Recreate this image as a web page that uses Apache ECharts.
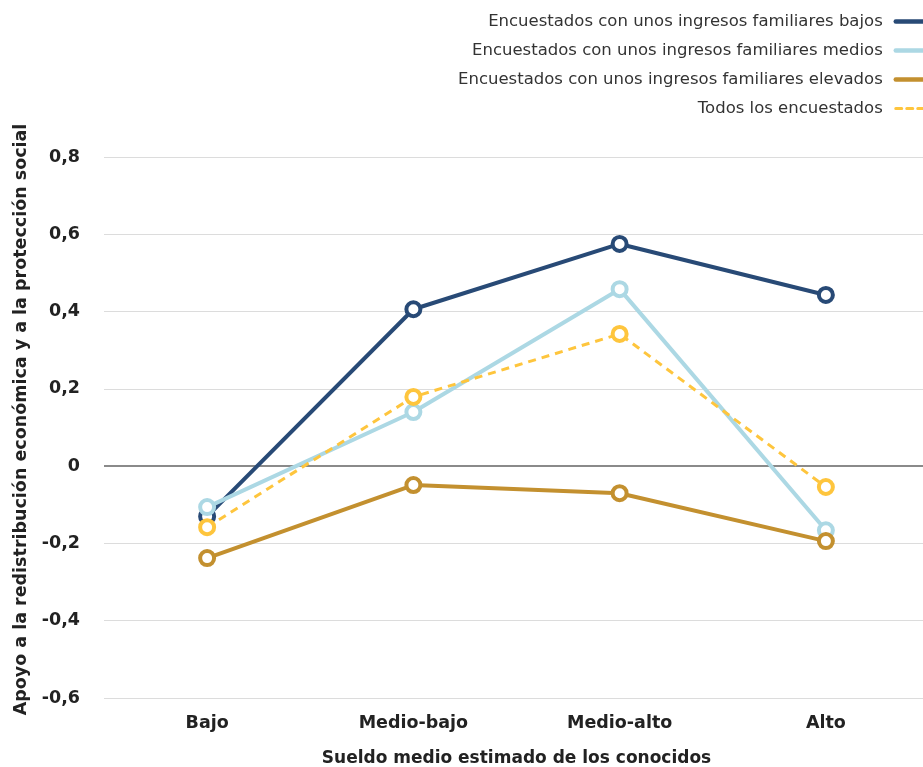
<!DOCTYPE html>
<html>
<head>
<meta charset="utf-8">
<script src="https://cdn.jsdelivr.net/npm/echarts@6/dist/echarts.min.js"></script>
<style>
  html, body { margin: 0; padding: 0; background: #fff; }
  #chart { width: 923px; height: 767px; }
</style>
</head>
<body>
<div id="chart"></div>
<script>
// Categories: estimated average salary of acquaintances
const categories = ['Bajo', 'Medio-bajo', 'Medio-alto', 'Alto'];

// Support for redistribution by respondent household income
const ingresosBajos = [-0.13, 0.406, 0.575, 0.443];
const ingresosMedios = [-0.106, 0.14, 0.458, -0.166];
const ingresosElevados = [-0.238, -0.049, -0.07, -0.194];
const todos = [-0.158, 0.179, 0.342, -0.054];

const seriesNames = [
  'Encuestados con unos ingresos familiares bajos',
  'Encuestados con unos ingresos familiares medios',
  'Encuestados con unos ingresos familiares elevados',
  'Todos los encuestados'
];
const colors = ['#284a76', '#acd8e4', '#c3902f', '#fec53d'];

const FONT = '"DejaVu Sans", "Open Sans", sans-serif';

function lineSeries(name, data, color, dashed) {
  return {
    name: name,
    type: 'line',
    data: data,
    symbol: 'circle',
    symbolSize: 14,
    lineStyle: { color: color, width: dashed ? 3 : 4, type: dashed ? [8, 6] : 'solid' },
    itemStyle: { color: '#fff', borderColor: color, borderWidth: 4 },
    emphasis: { disabled: true }
  };
}

const chart = echarts.init(document.getElementById('chart'), null, { renderer: 'canvas' });

const series = [
  lineSeries(seriesNames[0], ingresosBajos, colors[0], false),
  lineSeries(seriesNames[1], ingresosMedios, colors[1], false),
  lineSeries(seriesNames[2], ingresosElevados, colors[2], false),
  lineSeries(seriesNames[3], todos, colors[3], true)
];

// zero reference line
series[0].markLine = {
  silent: true,
  symbol: 'none',
  label: { show: false },
  lineStyle: { color: '#8a8a8a', width: 2, type: 'solid' },
  data: [{ yAxis: 0 }],
  z: 1
};

const legendData = seriesNames.map(function (n, i) {
  return {
    name: n,
    lineStyle: { width: i === 3 ? 3 : 4.5, type: i === 3 ? [6, 5] : 'solid', cap: 'round' }
  };
});

chart.setOption({
  animation: false,
  backgroundColor: '#fff',
  legend: {
    orient: 'vertical',
    right: -72,
    top: 7,
    align: 'right',
    itemWidth: 92,
    itemHeight: 14,
    itemGap: 10,
    textStyle: { fontFamily: FONT, fontSize: 16.5, color: '#333', lineHeight: 19, padding: [0, 8, 0, 0] },
    data: legendData
  },
  grid: { left: 104, right: -6, top: 157, bottom: 69, outerBoundsMode: 'none' },
  xAxis: {
    type: 'category',
    data: categories,
    boundaryGap: true,
    axisLine: { show: false },
    axisTick: { show: false },
    axisLabel: { fontFamily: FONT, fontSize: 17.5, fontWeight: 'bold', color: '#222', margin: 16 },
    name: 'Sueldo medio estimado de los conocidos',
    nameLocation: 'middle',
    nameGap: 52,
    nameTextStyle: { fontFamily: FONT, fontSize: 17, fontWeight: 'bold', color: '#222' }
  },
  yAxis: {
    type: 'value',
    min: -0.6,
    max: 0.8,
    interval: 0.2,
    axisLine: { show: false },
    axisTick: { show: false },
    splitLine: { lineStyle: { color: '#dcdcdc', width: 1 } },
    axisLabel: {
      fontFamily: FONT, fontSize: 17.5, fontWeight: 'bold', color: '#222', margin: 24,
      formatter: function (v) { return Math.abs(v) < 1e-9 ? '0' : v.toFixed(1).replace('.', ','); }
    },
    name: 'Apoyo a la redistribución económica y a la protección social',
    nameLocation: 'middle',
    nameGap: 74,
    nameRotate: 90,
    nameTextStyle: { fontFamily: FONT, fontSize: 17.5, fontWeight: 'bold', color: '#222', padding: [0, 0, 0, 16] }
  },
  series: series
});
</script>
</body>
</html>
